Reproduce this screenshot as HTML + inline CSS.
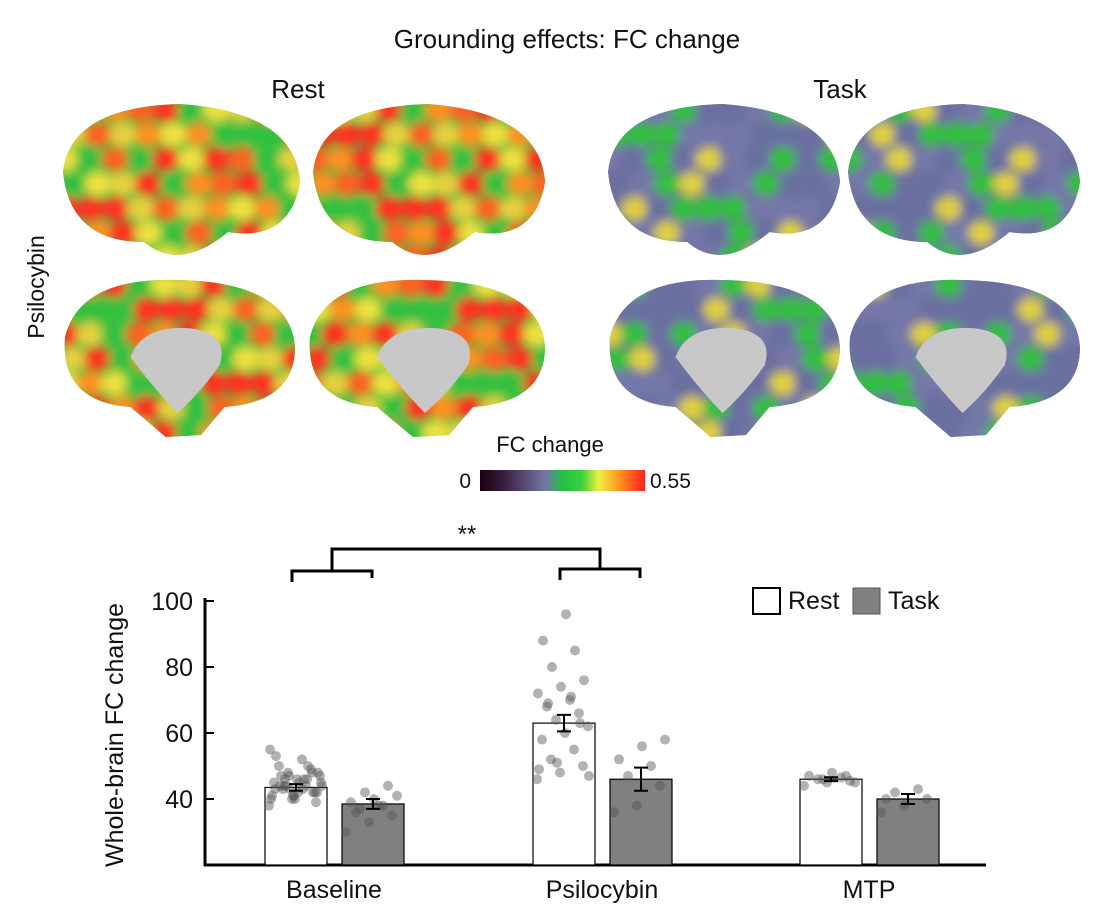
<!DOCTYPE html>
<html><head><meta charset="utf-8">
<style>
body{margin:0;background:#fff;font-family:"Liberation Sans",sans-serif;}
svg text{font-family:"Liberation Sans",sans-serif;fill:#111;}
</style></head>
<body>
<svg id="root" width="1120" height="906" viewBox="0 0 1120 906" xmlns="http://www.w3.org/2000/svg">
<defs>
<filter id="bl" x="-20%" y="-20%" width="140%" height="140%"><feGaussianBlur stdDeviation="5"/></filter>
<linearGradient id="cb" x1="0" x2="1">
<stop offset="0" stop-color="#1a0010"/><stop offset="0.15" stop-color="#3a2040"/><stop offset="0.4" stop-color="#7478a8"/>
<stop offset="0.5" stop-color="#20c040"/><stop offset="0.62" stop-color="#40d040"/><stop offset="0.72" stop-color="#f0f040"/>
<stop offset="0.85" stop-color="#ff9020"/><stop offset="1" stop-color="#ff2020"/></linearGradient>
</defs>
<text x="567" y="48" font-size="26" text-anchor="middle">Grounding effects: FC change</text>
<text x="298" y="98" font-size="26" text-anchor="middle">Rest</text>
<text x="840" y="98" font-size="26" text-anchor="middle">Task</text>
<text transform="translate(44,287) rotate(-90)" font-size="23" text-anchor="middle">Psilocybin</text>
<g id="brains"></g>
<text x="550" y="452" font-size="22" text-anchor="middle">FC change</text>
<rect x="480" y="470" width="165" height="21" fill="url(#cb)"/>
<text x="471" y="488" font-size="21" text-anchor="end">0</text>
<text x="650" y="488" font-size="21">0.55</text>
<g id="chart"></g>
</svg>
<script>
const NS="http://www.w3.org/2000/svg";
function mk(p,t,a){const e=document.createElementNS(NS,t);for(const k in a)e.setAttribute(k,a[k]);p.appendChild(e);return e;}
const brains=document.getElementById('brains');
const hot=['#ff3020','#ff6020','#f0e040','#30c040','#ff3020','#e8d040','#ff9020','#30c040'];
const cold=['#6a70a0','#30c040','#7478a8','#6a70a0','#e0d040','#30c040','#7478a8','#6a70a0'];
const panels=[[60,102,240,160,0,0],[310,102,235,160,0,1],[60,277,235,160,1,0],[305,277,240,160,1,1],[605,102,235,160,0,0],[845,102,235,160,0,1],[605,277,235,160,1,0],[845,277,235,160,1,1]];
panels.forEach((p,i)=>{
 const [x,y,w,h,med,side]=p; const task=i>=4;
 const g=mk(brains,'g',{});
 
 
 const cid='c'+i;
 const cpath=med?`M${x+5} ${y+60}Q${x+20} ${y} ${x+w*0.5} ${y+3}Q${x+w-5} ${y+5} ${x+w} ${y+70}Q${x+w} ${y+125} ${x+w*0.7} ${y+130}L${x+w*0.6} ${y+158}L${x+w*0.45} ${y+160}L${x+w*0.3} ${y+130}Q${x} ${y+125} ${x+5} ${y+60}Z`
  :`M${x+3} ${y+70}Q${x+10} ${y+5} ${x+w*0.5} ${y+2}Q${x+w-5} ${y+10} ${x+w} ${y+80}Q${x+w-10} ${y+140} ${x+w*0.7} ${y+130}Q${x+w*0.5} ${y+170} ${x+w*0.35} ${y+140}Q${x+10} ${y+140} ${x+3} ${y+70}Z`;
 mk(mk(g,'clipPath',{id:cid}),'path',{d:cpath});
 const inner=mk(g,'g',{'clip-path':'url(#'+cid+')'});
 mk(inner,'rect',{x:x,y:y,width:w,height:h,fill:task?'#6e72a0':'#40c040'});
 const bg=mk(inner,'g',{filter:'url(#bl)'});
 const pal=task?cold:hot;
 for(let r=0;r<7;r++)for(let c=0;c<10;c++){
   const k=(r*5+c*3+i*7+((r*c)%3))%pal.length;
   mk(bg,'ellipse',{cx:x+5+c*w/9.5+(r%2)*8,cy:y+8+r*h/6.5,rx:w/17,ry:h/13,fill:pal[k]});
 }
 if(med){mk(g,'path',{d:`M${x+w*0.3} ${y+h*0.5}Q${x+w*0.35} ${y+h*0.3} ${x+w*0.55} ${y+h*0.32}Q${x+w*0.72} ${y+h*0.35} ${x+w*0.68} ${y+h*0.55}Q${x+w*0.6} ${y+h*0.72} ${x+w*0.5} ${y+h*0.85}Q${x+w*0.4} ${y+h*0.7} ${x+w*0.3} ${y+h*0.5}Z`,fill:'#c8c8c8'});}
});
// chart data
const categories=['Baseline','Psilocybin','MTP'];
const restMeans=[43.5,63,46];
const taskMeans=[38.5,46,40];
const restErr=[1,2.5,0.6];
const taskErr=[1.5,3.5,1.5];
const yTicks=[40,60,80,100];
const restPts=[[38,40,42,43,44,45,46,47,48,49,50,52,55,41,39,44,46,43,42,45,47,48,44,43,40,41,42,46,50,53,45,44,43,42,47,46,41,40,48,44],
 [46,48,50,52,55,58,60,62,64,66,68,70,72,74,76,80,85,88,96,47,51,63,69,71,49],
 [44,45,45.5,46,46.5,47,48,45,46,47]];
const taskPts=[[30,33,35,37,38,39,40,41,42,44,36,38],[36,38,44,47,50,52,56,58],[36,38,40,42,43,40]];
const chart=document.getElementById('chart');
const Y=v=>601+(100-v)*3.3;
const cx=[296,564,831];
function a(e,n,i){}
let e=mk(chart,'line',{x1:205,y1:598,x2:205,y2:866,stroke:'#000','stroke-width':3});a(e,'y-axis');
e=mk(chart,'line',{x1:204,y1:865,x2:986,y2:865,stroke:'#000','stroke-width':3});a(e,'x-axis');
yTicks.forEach(t=>{e=mk(chart,'line',{x1:205,x2:214,y1:Y(t),y2:Y(t),stroke:'#000','stroke-width':2});a(e,'y-tick');
 e=mk(chart,'text',{x:193,y:Y(t)+9,'font-size':25,'text-anchor':'end'});e.textContent=t;a(e,'y-tick-label');});
e=mk(chart,'text',{transform:'translate(123,735) rotate(-90)','font-size':25,'text-anchor':'middle'});e.textContent='Whole-brain FC change';a(e,'y-axis-title');
categories.forEach((c,i)=>{
 const groups=[[cx[i],restMeans[i],restErr[i],restPts[i],'#fff','rest'],[cx[i]+77,taskMeans[i],taskErr[i],taskPts[i],'#808080','task']];
 groups.forEach(([x,m,er,pts,f,n])=>{
  e=mk(chart,'rect',{x:x-31,y:Y(m),width:62,height:865-Y(m),fill:f,stroke:'#000','stroke-width':1.2});a(e,'bar-'+c.toLowerCase()+'-'+n);
  pts.forEach((v,j)=>{e=mk(chart,'circle',{cx:x-27+((j*23)%55),cy:Y(v),r:5,fill:'#555','fill-opacity':0.45});a(e,'point-'+c.toLowerCase()+'-'+n);});
  e=mk(chart,'path',{d:`M${x} ${Y(m+er)}V${Y(m-er)}M${x-7} ${Y(m+er)}H${x+7}M${x-7} ${Y(m-er)}H${x+7}`,stroke:'#000','stroke-width':2,fill:'none'});a(e,'error-bar-'+c.toLowerCase()+'-'+n);
 });
 e=mk(chart,'text',{x:cx[i]+38,y:898,'font-size':25,'text-anchor':'middle'});e.textContent=c;a(e,'x-label-'+c.toLowerCase());
});
e=mk(chart,'path',{d:'M292 582V571H372V578M560 580V569H640V578M332 571V549H600V569',stroke:'#000','stroke-width':3,fill:'none'});a(e,'significance-bracket');
e=mk(chart,'text',{x:467,y:542,'font-size':24,'text-anchor':'middle'});e.textContent='**';a(e,'significance-stars');
e=mk(chart,'rect',{x:753,y:588,width:27,height:26,fill:'#fff',stroke:'#000','stroke-width':2});a(e,'legend-rest-swatch');
e=mk(chart,'text',{x:788,y:609,'font-size':25});e.textContent='Rest';a(e,'legend-rest-label');
e=mk(chart,'rect',{x:853,y:588,width:27,height:26,fill:'#808080',stroke:'#555','stroke-width':1});a(e,'legend-task-swatch');
e=mk(chart,'text',{x:888,y:609,'font-size':25});e.textContent='Task';a(e,'legend-task-label');
</script>
</body></html>
